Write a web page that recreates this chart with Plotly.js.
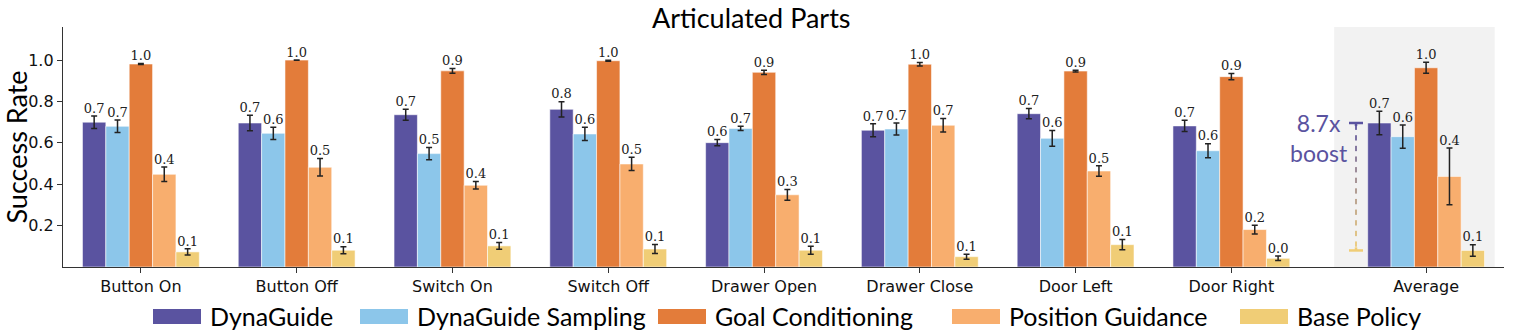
<!DOCTYPE html>
<html>
<head>
<meta charset="utf-8">
<script src="https://cdn.plot.ly/plotly-3.0.1.min.js"></script>
<style>html,body{margin:0;padding:0;background:#fff;}#chart{width:1522px;height:335px;}</style>
</head>
<body>
<div id="chart"></div>
<script>
// ---- data ----
const categories = ['Button On','Button Off','Switch On','Switch Off','Drawer Open','Drawer Close','Door Left','Door Right','Average'];
const seriesNames = ['DynaGuide','DynaGuide Sampling','Goal Conditioning','Position Guidance','Base Policy'];
const dynaguide    = [0.700,0.696,0.736,0.762,0.601,0.661,0.741,0.682,0.696];
const dynaguideErr = [0.030,0.037,0.027,0.037,0.015,0.031,0.025,0.027,0.057];
const sampling     = [0.680,0.646,0.548,0.643,0.670,0.667,0.622,0.562,0.630];
const samplingErr  = [0.030,0.030,0.030,0.032,0.010,0.029,0.038,0.034,0.056];
const goal         = [0.981,1.000,0.948,0.997,0.941,0.980,0.947,0.920,0.963];
const goalErr      = [0.002,0.001,0.012,0.002,0.010,0.009,0.004,0.015,0.027];
const position     = [0.448,0.482,0.395,0.498,0.349,0.685,0.464,0.181,0.438];
const positionErr  = [0.035,0.042,0.018,0.032,0.026,0.033,0.025,0.021,0.137];
const basePolicy   = [0.073,0.081,0.102,0.087,0.081,0.050,0.108,0.042,0.080];
const basePolicyErr= [0.015,0.017,0.016,0.022,0.019,0.012,0.025,0.011,0.028];
const yTicks = [0.2,0.4,0.6,0.8,1.0];

// ---- styles ----
const colors = ['#5A53A0','#8CC6EA','#E37C3A','#F8AE6E','#F0CD76'];
const values = [dynaguide, sampling, goal, position, basePolicy];
const errors = [dynaguideErr, samplingErr, goalErr, positionErr, basePolicyErr];
const barW = 0.15;
const xPos = categories.map((c,i) => i < categories.length - 1 ? i : i + 0.25);

const L = 63, T = 27, W = 1441, H = 240;
const xp = px => (px - L) / W;
const yp = py => (T + H - py) / H;

const traces = [];
values.forEach((vals, j) => {
  const xs = xPos.map(p => p + (j - 2) * barW);
  traces.push({
    type: 'bar', x: xs, y: vals, width: barW, name: seriesNames[j],
    marker: {color: colors[j], line: {color: 'rgba(255,255,255,0.55)', width: 1}},
    error_y: {type: 'data', array: errors[j], visible: true, color: '#222', thickness: 1.5, width: 3},
    showlegend: false, hoverinfo: 'skip'
  });
});
values.forEach((vals, j) => {
  const xs = xPos.map(p => p + (j - 2) * barW);
  traces.push({
    type: 'scatter', mode: 'text', x: xs,
    y: vals.map((v, i) => v + errors[j][i]),
    text: vals.map(v => (Math.round(v * 10) / 10).toFixed(1)),
    textposition: 'top center',
    textfont: {family: 'DejaVu Serif', size: 13, color: '#222'},
    showlegend: false, hoverinfo: 'skip', cliponaxis: false
  });
});

const shapes = [];
const annotations = [];
// highlight of the Average group
shapes.push({type: 'rect', xref: 'x', yref: 'paper', x0: 7.66, x1: 8.69, y0: 0, y1: 1,
  fillcolor: '#F2F2F2', line: {width: 0}, layer: 'below'});

// boost indicator
const ai = categories.length - 1;
const yTop = dynaguide[ai], yBot = basePolicy[ai];
const bx = 7.80;
const nd = 12;
const hexToRgb = h => [1,3,5].map(k => parseInt(h.substr(k,2),16));
const c0 = hexToRgb('#5A53A0'), c1 = hexToRgb('#F0CD76');
const period = (yTop - yBot) / nd;
for (let k = 0; k < nd; k++) {
  const t = (k + 0.5) / nd;
  const c = c0.map((v, m) => Math.round(v + (c1[m] - v) * t));
  const y0 = yTop - k * period - period * 0.15;
  const y1 = y0 - period * 0.5;
  if (y1 < yBot) continue;
  shapes.push({type: 'line', xref: 'x', yref: 'y', x0: bx, x1: bx, y0: y0, y1: y1,
    line: {color: `rgba(${c[0]},${c[1]},${c[2]},0.9)`, width: 2}});
}
shapes.push({type: 'line', xref: 'x', yref: 'y', x0: bx - 0.045, x1: bx + 0.045, y0: yTop, y1: yTop,
  line: {color: '#5A53A0', width: 2.5}});
shapes.push({type: 'line', xref: 'x', yref: 'y', x0: bx, x1: bx, y0: yTop, y1: yTop - 0.015,
  line: {color: '#5A53A0', width: 2.5}});
shapes.push({type: 'line', xref: 'x', yref: 'y', x0: bx - 0.045, x1: bx + 0.045, y0: yBot, y1: yBot,
  line: {color: '#F0CD76', width: 2.5}});
shapes.push({type: 'line', xref: 'x', yref: 'y', x0: bx, x1: bx, y0: yBot, y1: yBot + 0.015,
  line: {color: '#F0CD76', width: 2.5}});
annotations.push({xref: 'x', yref: 'y', x: 7.56, y: 0.622, showarrow: false, align: 'center',
  text: (yTop / yBot).toFixed(1) + 'x<br>boost',
  font: {family: 'Lato', size: 23, color: '#5A53A0'}});

// title
annotations.push({xref: 'paper', yref: 'paper', x: xp(751), y: yp(0), showarrow: false,
  xanchor: 'center', yanchor: 'top', borderpad: 0, text: 'Articulated Parts',
  font: {family: 'Lato', size: 27, color: '#000'}});

// custom legend
const patchX = [153, 360, 658, 952, 1240];
seriesNames.forEach((n, j) => {
  shapes.push({type: 'rect', xref: 'paper', yref: 'paper',
    x0: xp(patchX[j]), x1: xp(patchX[j] + 48), y0: yp(324), y1: yp(309),
    fillcolor: colors[j], line: {width: 0}});
  annotations.push({xref: 'paper', yref: 'paper', x: xp(patchX[j] + 55), y: yp(316),
    xanchor: 'left', yanchor: 'middle', showarrow: false, text: n,
    font: {family: 'Lato', size: 25, color: '#000'}});
});

const layout = {
  width: 1522, height: 335,
  margin: {l: L, r: 1522 - L - W, t: T, b: 335 - T - H, pad: 0},
  paper_bgcolor: '#fff', plot_bgcolor: 'rgba(0,0,0,0)',
  barmode: 'overlay', showlegend: false,
  xaxis: {range: [-0.5, 8.75], tickmode: 'array', tickvals: xPos, ticktext: categories,
    ticks: 'outside', ticklen: 5, tickcolor: '#333', showline: true, linecolor: '#333', linewidth: 1.2,
    showgrid: false, zeroline: false, tickfont: {family: 'DejaVu Sans', size: 16, color: '#111'}},
  yaxis: {range: [0, 1.16], tickmode: 'array', tickvals: yTicks, tickformat: '.1f',
    ticks: 'outside', ticklen: 5, tickcolor: '#333', showline: true, linecolor: '#333', linewidth: 1.2,
    showgrid: false, zeroline: false, tickfont: {family: 'DejaVu Sans', size: 16, color: '#111'},
    title: {text: 'Success Rate', font: {family: 'Lato', size: 27, color: '#000'}, standoff: 6}},
  shapes: shapes, annotations: annotations
};

Plotly.newPlot('chart', traces, layout, {staticPlot: true, displayModeBar: false});
</script>
</body>
</html>
